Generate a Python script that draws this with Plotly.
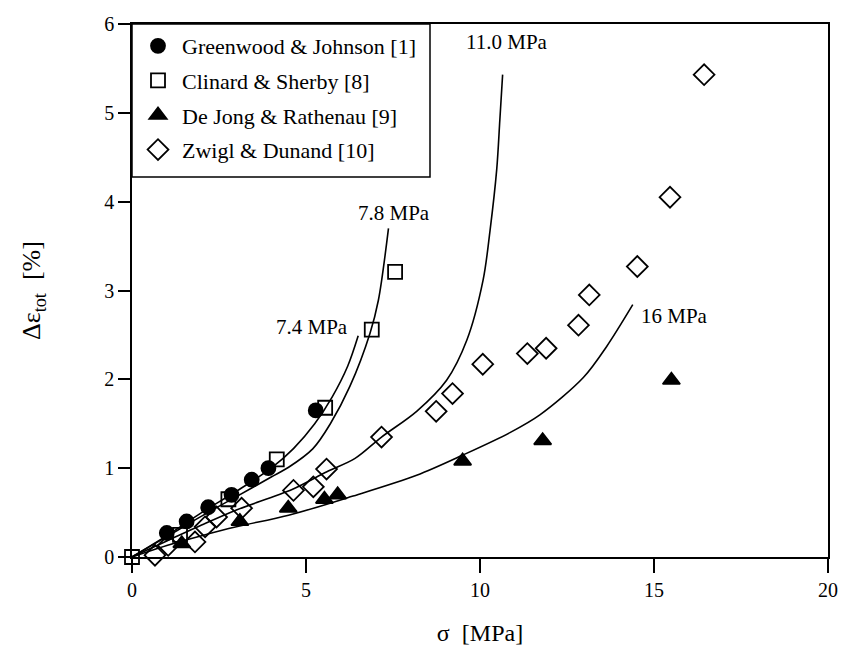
import plotly.graph_objects as go

# ---- data ----
gj_x = [1.0, 1.57, 2.19, 2.86, 3.44, 3.92, 5.28]
gj_y = [0.27, 0.40, 0.56, 0.70, 0.87, 1.00, 1.65]

cs_x = [0.0, 1.38, 2.77, 4.16, 5.55, 6.89, 7.56]
cs_y = [0.0, 0.25, 0.65, 1.10, 1.68, 2.56, 3.21]

dj_x = [1.43, 3.10, 4.49, 5.53, 5.91, 9.50, 11.80, 15.50]
dj_y = [0.15, 0.40, 0.55, 0.65, 0.70, 1.08, 1.31, 1.99]

zd_x = [0.66, 1.04, 1.81, 2.10, 2.43, 3.15, 4.64, 5.21, 5.59, 7.17, 8.74, 9.21,
        10.08, 11.36, 11.90, 12.83, 13.14, 14.52, 15.46, 16.44]
zd_y = [0.02, 0.13, 0.17, 0.34, 0.45, 0.55, 0.75, 0.79, 0.99, 1.35, 1.64, 1.84,
        2.17, 2.29, 2.35, 2.61, 2.95, 3.27, 4.05, 5.43]

c74_x = [0, 1, 2, 3, 4, 4.64, 5.25, 5.75, 6.2, 6.5]
c74_y = [0, 0.24, 0.5, 0.74, 1.0, 1.22, 1.5, 1.8, 2.15, 2.49]

c78_x = [0, 1, 2, 3, 4, 4.5, 5.2, 5.7, 6.26, 6.84, 7.08, 7.37]
c78_y = [0, 0.23, 0.46, 0.68, 0.9, 1.01, 1.22, 1.5, 1.92, 2.52, 2.89, 3.70]

c110_x = [0, 1, 2, 3, 4.6, 5.6, 6.41, 7.17, 8.18, 9.04, 9.62, 10.09, 10.29, 10.48, 10.57, 10.65]
c110_y = [0, 0.18, 0.36, 0.53, 0.76, 0.96, 1.11, 1.35, 1.64, 1.99, 2.44, 3.12, 3.68, 4.36, 4.92, 5.43]

c16_x = [0, 1, 2, 3, 4.5, 6.3, 8.18, 9.52, 10.86, 11.72, 12.97, 13.64, 14.39]
c16_y = [0, 0.13, 0.24, 0.34, 0.47, 0.68, 0.92, 1.15, 1.40, 1.60, 2.02, 2.37, 2.84]

curve_labels = ["7.4 MPa", "7.8 MPa", "11.0 MPa", "16 MPa"]
label_x = [5.16, 7.53, 10.77, 15.6]
label_y = [2.59, 3.87, 5.80, 2.71]

x_ticks = [0, 5, 10, 15, 20]
y_ticks = [0, 1, 2, 3, 4, 5, 6]

FONT = "Liberation Serif"

W, H = 843, 654
L, T = 132, 24
PW, PH = 696, 533  # plot area size
R = W - L - PW
B = H - T - PH

fig = go.Figure()

for cx, cy in [(c74_x, c74_y), (c78_x, c78_y), (c110_x, c110_y), (c16_x, c16_y)]:
    fig.add_trace(go.Scatter(x=cx, y=cy, mode="lines",
                             line=dict(color="black", width=1.6, shape="spline", smoothing=0.9),
                             showlegend=False, hoverinfo="skip"))

series = [
    ("Greenwood & Johnson [1]", gj_x, gj_y, "circle", 14),
    ("Clinard & Sherby [8]", cs_x, cs_y, "square-open", 14),
    ("De Jong & Rathenau [9]", dj_x, dj_y, "triangle-up", 15),
    ("Zwigl & Dunand [10]", zd_x, zd_y, "diamond-open", 16),
]
for i, (name, sx, sy, sym, sz) in enumerate(series):
    fig.add_trace(go.Scatter(
        x=sx, y=sy, mode="markers", name=name, legendgroup=f"g{i}",
        marker=dict(symbol=sym, size=sz, color="black", line=dict(color="black", width=1.8)),
        cliponaxis=False))

for t, lx, ly in zip(curve_labels, label_x, label_y):
    fig.add_annotation(x=lx, y=ly, text=t, showarrow=False,
                       font=dict(family=FONT, size=21, color="black"))

# legend frame
fig.add_shape(type="rect", xref="paper", yref="paper",
              x0=0, x1=298 / PW, y0=1 - 153 / PH, y1=1,
              line=dict(color="black", width=1.5), fillcolor="white", layer="above")

axis_common = dict(showline=True, linecolor="black", linewidth=1.5, mirror=True,
                   ticks="outside", tickcolor="black", tickwidth=1.5,
                   showgrid=False, zeroline=False,
                   tickfont=dict(family=FONT, size=20, color="black"))

fig.update_xaxes(range=[0, 20], tickvals=x_ticks, ticklen=14,
                 title=dict(text="σ  [MPa]", font=dict(family=FONT, size=24, color="black"), standoff=24),
                 **axis_common)
fig.update_yaxes(range=[0, 6], tickvals=y_ticks, ticklen=12,
                 title=dict(text="Δε<sub>tot</sub>  [%]", font=dict(family=FONT, size=26, color="black"), standoff=56),
                 **axis_common)

fig.update_layout(
    width=W, height=H,
    margin=dict(l=L, r=R, t=T, b=B, autoexpand=False),
    paper_bgcolor="white", plot_bgcolor="white",
    legend=dict(x=2 / PW, y=1 - 1 / PH, xanchor="left", yanchor="top",
                bgcolor="rgba(0,0,0,0)", borderwidth=0,
                font=dict(family=FONT, size=22, color="black"),
                traceorder="grouped", tracegroupgap=3, itemwidth=38),
    showlegend=True,
)

fig.write_html("out.html", config={"displayModeBar": False},
               post_script="document.body.style.margin='0';document.body.style.overflow='hidden';")
